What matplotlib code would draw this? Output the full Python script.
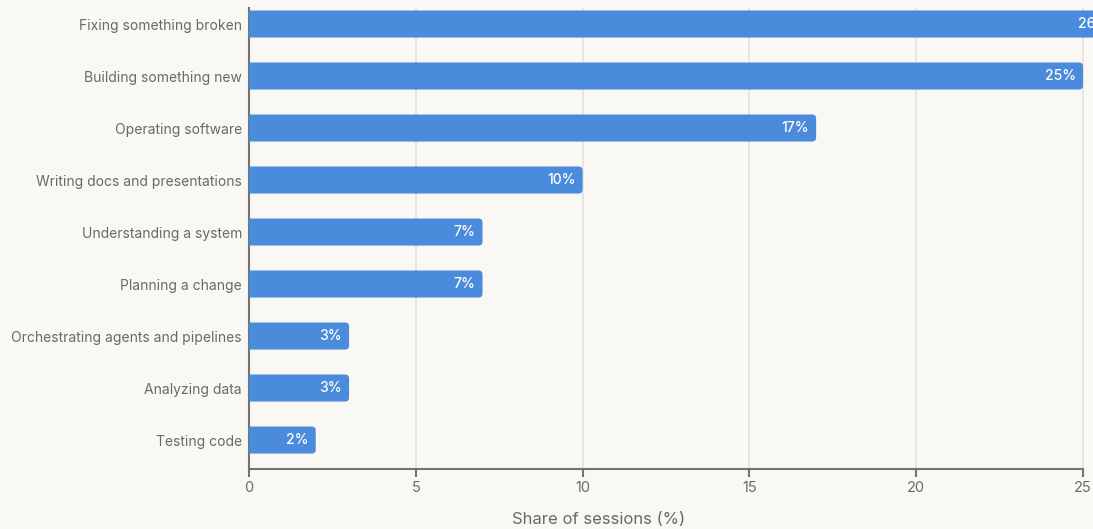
import matplotlib
matplotlib.use("Agg")
import matplotlib.pyplot as plt
from matplotlib.patches import FancyBboxPatch
from matplotlib.transforms import offset_copy

categories = [
    "Fixing something broken",
    "Building something new",
    "Operating software",
    "Writing docs and presentations",
    "Understanding a system",
    "Planning a change",
    "Orchestrating agents and pipelines",
    "Analyzing data",
    "Testing code",
]
shares = [26, 25, 17, 10, 7, 7, 3, 3, 2]
x_ticks = [0, 5, 10, 15, 20, 25]
x_label = "Share of sessions (%)"

BG = "#f9f8f5"
BAR = "#4a8bdb"
TEXT = "#6b6966"
AXIS = "#75736f"
GRID = "#e4e2de"

plt.rcParams["font.family"] = ["Inter", "DejaVu Sans"]

W, H = 1093, 529
fig = plt.figure(figsize=(W / 100, H / 100), dpi=100, facecolor=BG)

x_max = 26.6
left_px, right_px = 249, 249 + x_max * (1083 - 249) / 25
top_px, bottom_px = 8, 469
ax = fig.add_axes([left_px / W, 1 - bottom_px / H,
                   (right_px - left_px) / W, (bottom_px - top_px) / H])
ax.set_facecolor(BG)
ax.set_xlim(0, x_max)
ax.set_ylim(len(categories) - 1 + 0.557, -0.308)

px_x = (1083 - 249) / 25
px_y = (bottom_px - top_px) / (len(categories) - 1 + 0.557 + 0.308)

bar_h = 0.52
r = 4.0
for i, v in enumerate(shares):
    box = FancyBboxPatch((-1.0, i - bar_h / 2), v + 1.0, bar_h,
                         boxstyle=f"round,pad=0,rounding_size={r / px_x}",
                         mutation_aspect=px_x / px_y,
                         facecolor=BAR, edgecolor="none", zorder=3)
    ax.add_patch(box)
    ax.text(v, i, f"{v}%", transform=offset_copy(ax.transData, fig, x=-7, y=0, units="dots"),
            ha="right", va="center", color="white", fontsize=10,
            fontweight="medium", zorder=4, clip_on=False)

ax.set_xticks(x_ticks)
ax.set_xticklabels([str(t) for t in x_ticks])
ax.set_yticks(range(len(categories)))
ax.set_yticklabels(categories)
ax.tick_params(axis="y", length=0, pad=5, labelsize=10, labelcolor=TEXT)
ax.tick_params(axis="x", length=6, width=1.5, color=AXIS, pad=3,
               labelsize=10.5, labelcolor=TEXT)
ax.grid(axis="x", color=GRID, linewidth=1.2, zorder=0)
ax.set_axisbelow(True)

for s in ("top", "right"):
    ax.spines[s].set_visible(False)
for s in ("left", "bottom"):
    ax.spines[s].set_color(AXIS)
    ax.spines[s].set_linewidth(1.5)
ax.spines["bottom"].set_bounds(0, 25)

fig.text(599 / W, 1 - 519 / H, x_label, ha="center", va="center",
         fontsize=12, color=TEXT)

fig.savefig("out.png", dpi=100, facecolor=BG)
